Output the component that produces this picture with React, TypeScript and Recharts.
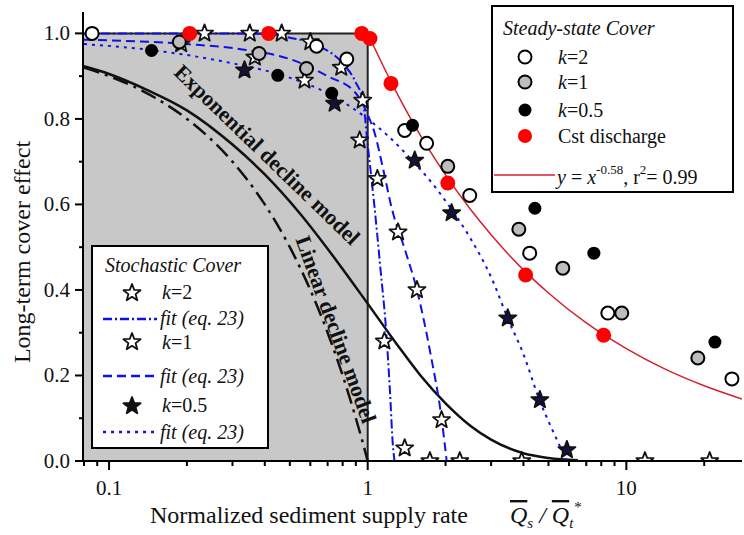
import React from 'react';
import { ComposedChart, Line, Scatter, XAxis, YAxis, ReferenceArea } from 'recharts';

const FONT = 'Liberation Serif, Times New Roman, serif';
const BLUE = '#1010e8';

// model curves
const expX = [0.08, 0.1, 0.14, 0.2, 0.3, 0.4, 0.55, 0.75, 1.0, 1.3, 1.6, 2.0, 2.5, 3.0, 4.0, 5.0, 6.5];
const expY = [0.923, 0.905, 0.868, 0.82, 0.74, 0.67, 0.577, 0.472, 0.368, 0.272, 0.2, 0.135, 0.082, 0.05, 0.018, 0.007, 0.0015];
const linX = [0.08, 0.1, 0.15, 0.2, 0.3, 0.4, 0.5, 0.6, 0.7, 0.8, 0.9, 0.95, 1.0];
const linY = [0.92, 0.9, 0.85, 0.8, 0.7, 0.6, 0.5, 0.4, 0.3, 0.2, 0.1, 0.05, 0];
const powX = [1, 1.25, 1.5, 2, 2.5, 3, 4, 5, 7, 10, 14, 20, 28];
const powY = [1, 0.879, 0.79, 0.669, 0.588, 0.529, 0.447, 0.393, 0.323, 0.263, 0.216, 0.176, 0.145];

// stochastic fits (eq. 23)
const fitK2X = [0.08, 0.2, 0.35, 0.5, 0.65, 0.8, 0.9, 0.96, 1.0, 1.03, 1.06, 1.12, 1.18, 1.22, 1.25, 1.27];
const fitK2Y = [1.0, 1.0, 1.0, 0.99, 0.97, 0.93, 0.885, 0.84, 0.74, 0.67, 0.6, 0.45, 0.3, 0.16, 0.04, 0];
const fitK1X = [0.08, 0.2, 0.35, 0.5, 0.7, 0.9, 1.0, 1.06, 1.15, 1.24, 1.4, 1.55, 1.75, 1.93, 2.02];
const fitK1Y = [0.985, 0.975, 0.96, 0.94, 0.9, 0.86, 0.81, 0.77, 0.68, 0.59, 0.49, 0.4, 0.25, 0.1, 0];
const fitK05X = [0.08, 0.15, 0.3, 0.45, 0.7, 1.0, 1.2, 1.5, 1.8, 2.1, 2.5, 3.0, 3.5, 4.0, 4.6, 5.2, 5.9];
const fitK05Y = [0.975, 0.96, 0.93, 0.905, 0.86, 0.8, 0.76, 0.7, 0.645, 0.59, 0.52, 0.43, 0.33, 0.25, 0.145, 0.07, 0];

// stochastic cover (stars)
const stK2X = [0.234, 0.35, 0.465, 0.6, 0.79, 0.956, 0.931, 1.16, 1.39, 1.74];
const stK2Y = [1.0, 1.0, 1.0, 0.98, 0.92, 0.843, 0.75, 0.28, 0.03, 0];
const stK1X = [0.19, 0.366, 0.57, 1.09, 1.31, 1.55, 1.93, 2.27, 3.94, 11.8, 21.0];
const stK1Y = [0.975, 0.944, 0.89, 0.66, 0.535, 0.4, 0.096, 0, 0, 0, 0];
const stK05X = [0.334, 0.745, 1.52, 2.11, 3.48, 4.63, 5.89];
const stK05Y = [0.914, 0.836, 0.703, 0.58, 0.334, 0.143, 0.026];

// steady-state cover (circles)
const ssK2X = [0.086, 0.634, 0.83, 1.39, 1.69, 2.48, 4.23, 8.48, 25.6];
const ssK2Y = [1.0, 0.97, 0.94, 0.773, 0.743, 0.621, 0.486, 0.346, 0.192];
const ssK1X = [0.187, 0.38, 0.58, 2.04, 3.84, 5.68, 9.6, 18.9];
const ssK1Y = [0.98, 0.953, 0.918, 0.689, 0.542, 0.451, 0.346, 0.241];
const ssK05X = [0.146, 0.449, 0.726, 1.49, 4.43, 7.49, 22.0];
const ssK05Y = [0.96, 0.902, 0.86, 0.785, 0.591, 0.486, 0.278];
const cstX = [0.205, 0.414, 0.948, 1.02, 1.23, 2.04, 4.08, 8.17];
const cstY = [1.0, 1.0, 1.0, 0.988, 0.883, 0.65, 0.435, 0.294];

const xTicks = [0.08, 0.09, 0.1, 0.2, 0.3, 0.4, 0.5, 0.6, 0.7, 0.8, 0.9, 1, 2, 3, 4, 5, 6, 7, 8, 9, 10, 20];
const xLabels = [0.1, 1, 10];
const yTicks = [0, 0.1, 0.2, 0.3, 0.4, 0.5, 0.6, 0.7, 0.8, 0.9, 1.0];

const pts = (xs: number[], ys: number[]) => xs.map((x, i) => ({ x, y: ys[i] }));

const starPath = (cx: number, cy: number, R: number, r: number) => {
  let d = '';
  for (let i = 0; i < 10; i++) {
    const a = (-90 + i * 36) * Math.PI / 180;
    const rad = i % 2 === 0 ? R : r;
    d += (i === 0 ? 'M' : 'L') + (cx + rad * Math.cos(a)).toFixed(2) + ',' + (cy + rad * Math.sin(a)).toFixed(2);
  }
  return d + 'Z';
};

// stars sitting on the axis are half hidden below it, as in the original
const Star = ({ cx, cy, fill }: any) => (
  <path d={starPath(cx, cy, 9, 3.8)} fill={fill} stroke="#111" strokeWidth={1.8} strokeLinejoin="round" clipPath="url(#plotClip)" />
);

const Dot = ({ cx, cy, fill, stroke }: any) => (
  <circle cx={cx} cy={cy} r={6.5} fill={fill} stroke={stroke} strokeWidth={stroke === 'none' ? 0 : 2} />
);

const XTick = ({ x, y, payload }: any) => {
  const major = xLabels.includes(payload.value);
  return (
    <g>
      <line x1={x} y1={y} x2={x} y2={y + (major ? 9 : 5)} stroke="#000" strokeWidth={2} />
      {major && (
        <text x={x} y={y + 34} textAnchor="middle" fontSize={21} style={{ fontFamily: FONT }} fill="#111">
          {payload.value}
        </text>
      )}
    </g>
  );
};

const YTick = ({ x, y, payload }: any) => {
  const major = Math.round(payload.value * 10) % 2 === 0;
  return (
    <g>
      <line x1={x} y1={y} x2={x - (major ? 8 : 4)} y2={y} stroke="#000" strokeWidth={2} />
      {major && (
        <text x={x - 13} y={y + 7} textAnchor="end" fontSize={21} style={{ fontFamily: FONT }} fill="#111">
          {payload.value.toFixed(1)}
        </text>
      )}
    </g>
  );
};

const LEG = 20;

const Overlay = () => (
  <svg width={744} height={535} style={{ position: 'absolute', left: 0, top: 0, pointerEvents: 'none', fontFamily: FONT }}>
    <defs>
      <clipPath id="plotClip" clipPathUnits="userSpaceOnUse">
        <rect x={83} y={0} width={661} height={460} />
      </clipPath>
    </defs>

    {/* curve annotations */}
    <text transform="translate(262,160) rotate(44)" textAnchor="middle" fontSize={22} fontWeight="bold" fill="#111">
      Exponential decline model
    </text>
    <text transform="translate(329,332) rotate(70)" textAnchor="middle" fontSize={22} fontWeight="bold" fill="#111">
      Linear decline model
    </text>

    {/* axis titles */}
    <text transform="translate(30,252) rotate(-90)" textAnchor="middle" fontSize={24} fill="#111">
      Long-term cover effect
    </text>
    <text x={150} y={523} fontSize={24} fill="#111">Normalized sediment supply rate</text>
    <text x={510} y={523} fontSize={24} fill="#111" fontStyle="italic">
      <tspan style={{ textDecoration: 'overline' }}>Q</tspan>
      <tspan fontSize={15} dy={5}>s</tspan>
      <tspan dy={-5}> / </tspan>
      <tspan style={{ textDecoration: 'overline' }}>Q</tspan>
      <tspan fontSize={15} dy={5}>t</tspan>
      <tspan fontSize={15} dy={-16}>*</tspan>
    </text>

    {/* steady-state legend */}
    <rect x={492} y={6} width={241} height={186} fill="#fff" stroke="#000" strokeWidth={2} />
    <text x={503} y={35} fontSize={LEG} fontStyle="italic" fill="#111">Steady-state Cover</text>
    <circle cx={525} cy={57} r={6.5} fill="#fff" stroke="#000" strokeWidth={2} />
    <circle cx={525} cy={82} r={6.5} fill="#bdbdbd" stroke="#000" strokeWidth={2} />
    <circle cx={525} cy={110} r={6.5} fill="#000" />
    <circle cx={525} cy={136} r={7} fill="#ff0000" />
    <text x={558} y={64} fontSize={LEG} fill="#111"><tspan fontStyle="italic">k</tspan>=2</text>
    <text x={558} y={89} fontSize={LEG} fill="#111"><tspan fontStyle="italic">k</tspan>=1</text>
    <text x={558} y={117} fontSize={LEG} fill="#111"><tspan fontStyle="italic">k</tspan>=0.5</text>
    <text x={558} y={143} fontSize={LEG} fill="#111">Cst discharge</text>
    <line x1={494} y1={175} x2={555} y2={175} stroke="#d42030" strokeWidth={1.5} />
    <text x={557} y={184} fontSize={LEG} fill="#111">
      <tspan fontStyle="italic">y</tspan> = <tspan fontStyle="italic">x</tspan>
      <tspan fontSize={13} dy={-10}>-0.58</tspan>
      <tspan dy={10}>, r</tspan>
      <tspan fontSize={13} dy={-10}>2</tspan>
      <tspan dy={10}>= 0.99</tspan>
    </text>

    {/* stochastic legend */}
    <rect x={92} y={246} width={176} height={202} fill="#fff" stroke="#000" strokeWidth={2} />
    <text x={105} y={272} fontSize={LEG} fontStyle="italic" fill="#111">Stochastic Cover</text>
    <path d={starPath(132, 293, 9, 3.8)} fill="#fff" stroke="#111" strokeWidth={1.8} strokeLinejoin="round" />
    <path d={starPath(132, 342, 9, 3.8)} fill="#fff" stroke="#111" strokeWidth={1.8} strokeLinejoin="round" />
    <path d={starPath(132, 406, 9, 3.8)} fill="#111" stroke="#111" strokeWidth={1.8} strokeLinejoin="round" />
    <text x={162} y={299} fontSize={LEG} fill="#111"><tspan fontStyle="italic">k</tspan>=2</text>
    <text x={162} y={349} fontSize={LEG} fill="#111"><tspan fontStyle="italic">k</tspan>=1</text>
    <text x={162} y={412} fontSize={LEG} fill="#111"><tspan fontStyle="italic">k</tspan>=0.5</text>
    <line x1={103} y1={319} x2={157} y2={319} stroke={BLUE} strokeWidth={2.5} strokeDasharray="9 3 2 3" />
    <line x1={103} y1={376} x2={157} y2={376} stroke={BLUE} strokeWidth={2.5} strokeDasharray="9 5" />
    <line x1={103} y1={432} x2={157} y2={432} stroke={BLUE} strokeWidth={2.5} strokeDasharray="3 5" />
    <text x={160} y={325} fontSize={LEG} fontStyle="italic" fill="#111">fit (eq. 23)</text>
    <text x={160} y={383} fontSize={LEG} fontStyle="italic" fill="#111">fit (eq. 23)</text>
    <text x={160} y={439} fontSize={LEG} fontStyle="italic" fill="#111">fit (eq. 23)</text>
  </svg>
);

export default function App() {
  return (
    <div style={{ position: 'absolute', left: 0, top: 0, width: 744, height: 535, background: '#fff' }}>
      <ComposedChart width={744} height={535} margin={{ top: 12, right: 2, left: 0, bottom: 0 }}>
        <XAxis
          dataKey="x"
          type="number"
          scale="log"
          domain={[0.0793, 28]}
          allowDataOverflow
          ticks={xTicks}
          interval={0}
          tick={<XTick />}
          tickLine={false}
          tickSize={0}
          tickMargin={0}
          height={74}
          axisLine={{ stroke: '#000', strokeWidth: 2 }}
        />
        <YAxis
          dataKey="y"
          type="number"
          domain={[0, 1.05]}
          allowDataOverflow
          ticks={yTicks}
          interval={0}
          tick={<YTick />}
          tickLine={false}
          tickSize={0}
          tickMargin={0}
          width={83}
          axisLine={{ stroke: '#000', strokeWidth: 2 }}
        />
        <ReferenceArea x1={0.0793} x2={1} y1={0} y2={1} fill="#c8c8c8" fillOpacity={1} stroke="#222" strokeWidth={2} />

        <Line data={pts(linX, linY)} dataKey="y" type="monotone" stroke="#111" strokeWidth={2.5} strokeDasharray="16 6 3 6" dot={false} isAnimationActive={false} />
        <Line data={pts(expX, expY)} dataKey="y" type="monotone" stroke="#111" strokeWidth={2.5} dot={false} isAnimationActive={false} />
        <Line data={pts(powX, powY)} dataKey="y" type="monotone" stroke="#d42030" strokeWidth={1.5} dot={false} isAnimationActive={false} />
        <Line data={pts(fitK2X, fitK2Y)} dataKey="y" type="monotone" stroke={BLUE} strokeWidth={2} strokeDasharray="9 3 2 3" dot={false} isAnimationActive={false} />
        <Line data={pts(fitK1X, fitK1Y)} dataKey="y" type="monotone" stroke={BLUE} strokeWidth={2} strokeDasharray="9 5" dot={false} isAnimationActive={false} />
        <Line data={pts(fitK05X, fitK05Y)} dataKey="y" type="monotone" stroke={BLUE} strokeWidth={2} strokeDasharray="3 5" dot={false} isAnimationActive={false} />

        <Scatter data={pts(stK2X, stK2Y)} dataKey="y" isAnimationActive={false} shape={(p: any) => <Star cx={p.cx} cy={p.cy} fill="#fff" />} />
        <Scatter data={pts(stK1X, stK1Y)} dataKey="y" isAnimationActive={false} shape={(p: any) => <Star cx={p.cx} cy={p.cy} fill="#fff" />} />
        <Scatter data={pts(stK05X, stK05Y)} dataKey="y" isAnimationActive={false} shape={(p: any) => <Star cx={p.cx} cy={p.cy} fill="#12123a" />} />
        <Scatter data={pts(ssK2X, ssK2Y)} dataKey="y" isAnimationActive={false} shape={(p: any) => <Dot cx={p.cx} cy={p.cy} fill="#fff" stroke="#000" />} />
        <Scatter data={pts(ssK1X, ssK1Y)} dataKey="y" isAnimationActive={false} shape={(p: any) => <Dot cx={p.cx} cy={p.cy} fill="#bdbdbd" stroke="#000" />} />
        <Scatter data={pts(ssK05X, ssK05Y)} dataKey="y" isAnimationActive={false} shape={(p: any) => <Dot cx={p.cx} cy={p.cy} fill="#000" stroke="none" />} />
        <Scatter data={pts(cstX, cstY)} dataKey="y" isAnimationActive={false} shape={(p: any) => <circle cx={p.cx} cy={p.cy} r={7.5} fill="#ff0000" />} />
      </ComposedChart>
      <Overlay />
    </div>
  );
}
